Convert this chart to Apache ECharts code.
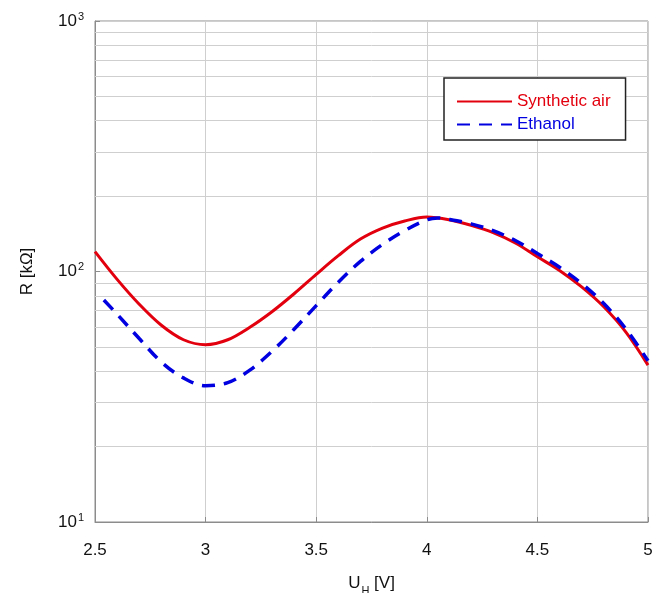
<!DOCTYPE html>
<html>
<head>
<meta charset="utf-8">
<script src="https://cdn.jsdelivr.net/npm/echarts@6/dist/echarts.min.js"></script>
<style>html,body{margin:0;padding:0;background:#fff;}#c{width:665px;height:593px;}</style>
</head>
<body>
<div id="c"></div>
<script>
const airU = [2.5,2.6,2.7,2.8,2.9,3.0,3.1,3.2,3.3,3.4,3.5,3.6,3.7,3.8,3.9,4.0,4.1,4.2,4.3,4.4,4.5,4.6,4.7,4.8,4.9,5.0];
const airR = [120,93,74,61,53.4,51,53.4,59.9,69.1,81.5,97.4,115.7,134.7,149,159,165,161,153,143,130,114.5,101,86.8,72.3,57.3,42.3];
const ethU = [2.54,2.6,2.7,2.8,2.9,3.0,3.1,3.2,3.3,3.4,3.5,3.6,3.7,3.8,3.9,4.0,4.05,4.1,4.2,4.3,4.4,4.5,4.6,4.7,4.8,4.9,5.0];
const ethR = [77,67.5,54,43.5,37.6,35,36,40.4,48,58.8,73.1,90.6,109.7,128.3,145.6,160.7,163.5,161.5,155,145.5,133,118,104,89.5,74.5,59,44];
const yMinorLines = [20,30,40,50,60,70,80,90,200,300,400,500,600,700,800,900];
const xTicks = {min: 2.5, max: 5, interval: 0.5};
const legendNames = ['Synthetic air', 'Ethanol'];

const RED = '#e3000e', BLUE = '#0000e0';
const FONT = "'Liberation Sans', Arial, sans-serif";

const chart = echarts.init(document.getElementById('c'));
chart.setOption({
  animation: false,
  backgroundColor: '#fff',
  grid: {left: 95, top: 21, right: 17, bottom: 71, show: true, borderColor: '#8c8c8c', borderWidth: 1, containLabel: false, outerBoundsMode: 'none'},
  legend: {
    orient: 'vertical', left: 444, top: 78, z: 20,
    backgroundColor: '#fff', borderColor: '#222', borderWidth: 1.5,
    padding: [15, 15, 7, 12],
    itemWidth: 55, itemHeight: 14, itemGap: 6,
    itemStyle: {opacity: 0},
    textStyle: {fontFamily: FONT, fontSize: 17},
    data: [
      {name: legendNames[0], textStyle: {color: RED}},
      {name: legendNames[1], textStyle: {color: BLUE}}
    ]
  },
  xAxis: {
    type: 'value', min: xTicks.min, max: xTicks.max, interval: xTicks.interval,
    axisLine: {show: true, lineStyle: {color: '#8c8c8c'}},
    axisTick: {show: true, inside: true, length: 5, lineStyle: {color: '#8c8c8c'}},
    splitLine: {show: true, lineStyle: {color: '#cfcfcf', width: 1}},
    axisLabel: {fontFamily: FONT, fontSize: 17, color: '#111', margin: 20},
    name: '{a|U}{h|H}{a| [V]}', nameLocation: 'middle', nameGap: 49,
    nameTextStyle: {rich: {
      a: {fontFamily: FONT, fontSize: 17, color: '#111'},
      h: {fontFamily: FONT, fontSize: 11, color: '#111', verticalAlign: 'top', padding: [14, 0, 0, 1]}
    }}
  },
  yAxis: {
    type: 'log', logBase: 10, min: 10, max: 1000,
    axisLine: {show: true, lineStyle: {color: '#8c8c8c'}},
    axisTick: {show: true, inside: true, length: 5, lineStyle: {color: '#8c8c8c'}},
    splitLine: {show: true, lineStyle: {color: '#cfcfcf', width: 1}},
    axisLabel: {
      margin: 11,
      formatter: function (v) { return '{b|10}{s|' + Math.round(Math.log10(v)) + '}'; },
      rich: {
        b: {fontFamily: FONT, fontSize: 17, color: '#111'},
        s: {fontFamily: FONT, fontSize: 11, color: '#111', verticalAlign: 'bottom', padding: [0, 0, 9, 1]}
      }
    },
    name: 'R [kΩ]', nameLocation: 'middle', nameGap: 59, nameRotate: 90,
    nameTextStyle: {fontFamily: FONT, fontSize: 17, color: '#111'}
  },
  series: [
    {
      type: 'line', name: '_grid', data: [], z: 1, silent: true,
      markLine: {
        z: 1, silent: true, symbol: 'none', animation: false,
        label: {show: false},
        lineStyle: {color: '#cfcfcf', width: 1, type: 'solid'},
        emphasis: {disabled: true},
        data: yMinorLines.map(v => ({yAxis: v}))
      }
    },
    {
      type: 'line', name: legendNames[0], z: 3, smooth: 0.35, showSymbol: false, symbol: 'none',
      data: airU.map((u, i) => [u, airR[i]]),
      lineStyle: {color: RED, width: 3}, itemStyle: {color: RED}
    },
    {
      type: 'line', name: legendNames[1], z: 4, smooth: 0.35, showSymbol: false, symbol: 'none',
      data: ethU.map((u, i) => [u, ethR[i]]),
      lineStyle: {color: BLUE, width: 3.5, type: [13, 9]}, itemStyle: {color: BLUE}
    }
  ]
});
</script>
</body>
</html>
